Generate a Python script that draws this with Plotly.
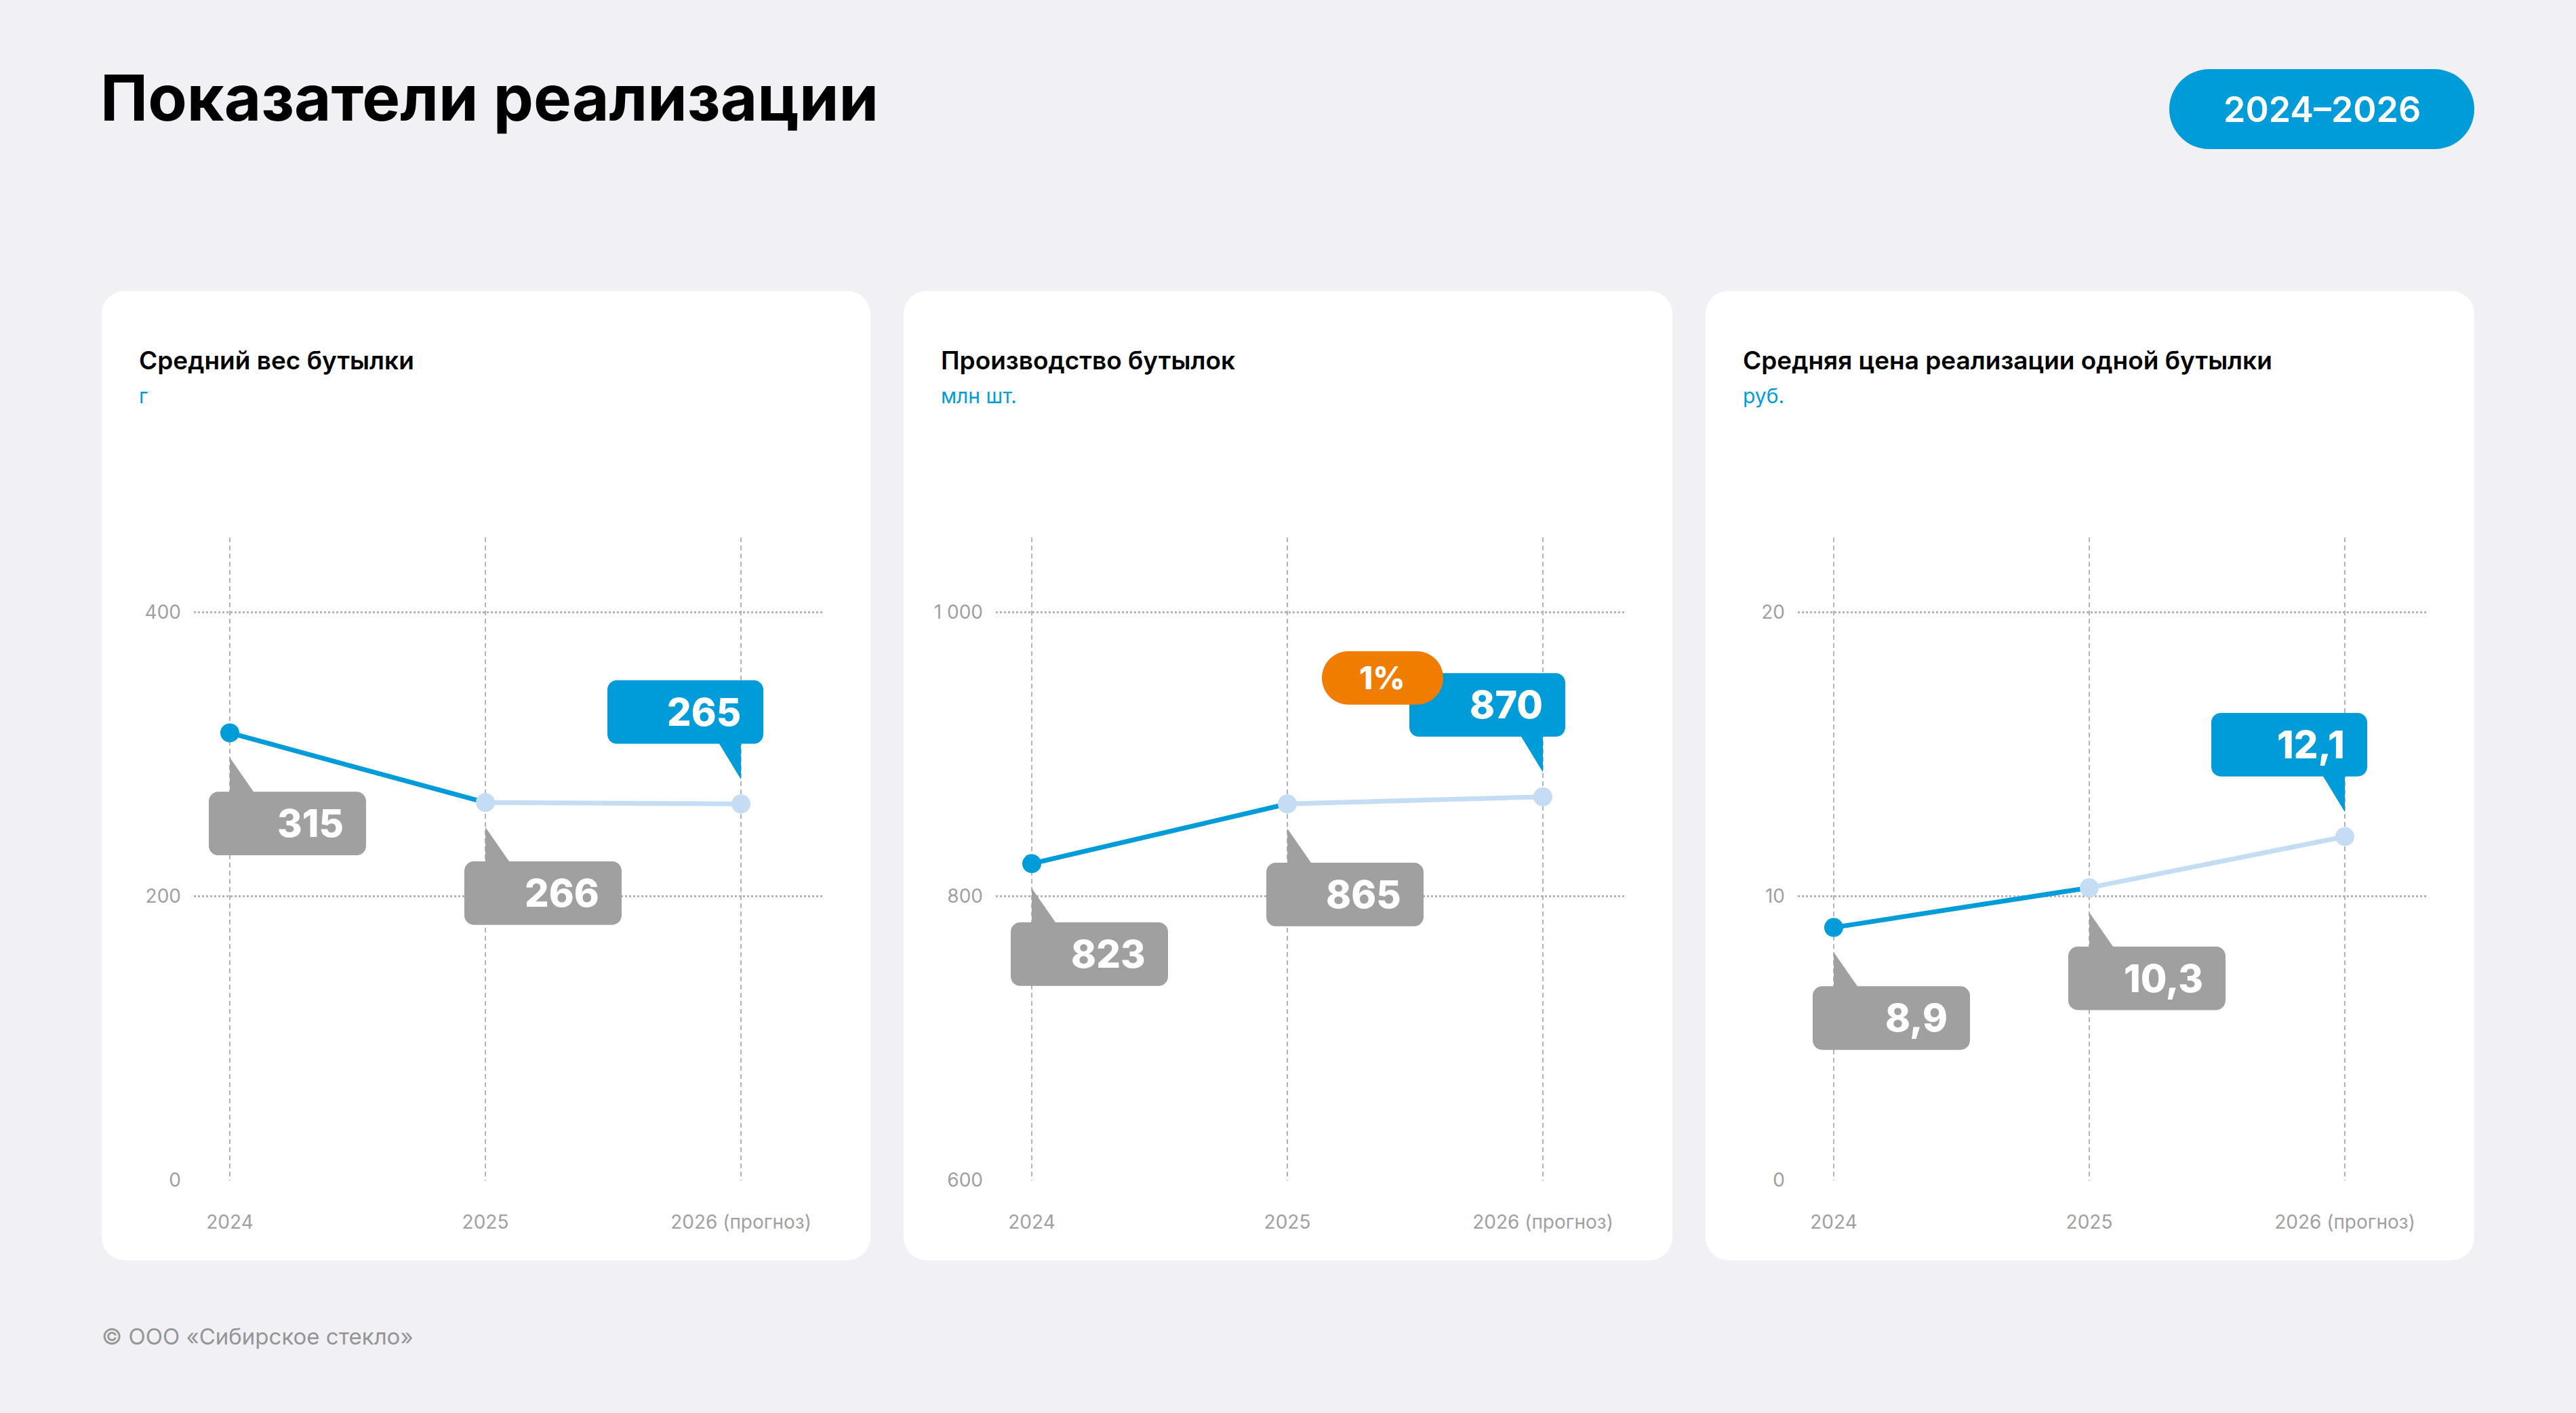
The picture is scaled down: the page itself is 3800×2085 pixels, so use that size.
import plotly.graph_objects as go

W, H = 3800, 2085
SY = 1.0086   # vertical correction measured for the capture

# ---------------- data ----------------
years = ["2024", "2025", "2026 (прогноз)"]
titles = ["Средний вес бутылки", "Производство бутылок", "Средняя цена реализации одной бутылки"]
units = ["г", "млн шт.", "руб."]

weight = [315, 266, 265]
production = [823, 865, 870]
price = [8.9, 10.3, 12.1]

weight_labels = ["315", "266", "265"]
production_labels = ["823", "865", "870"]
price_labels = ["8,9", "10,3", "12,1"]

production_change = "1%"          # badge on 2026 production value

weight_ticks = [0, 200, 400]
weight_ticktext = ["0", "200", "400"]
production_ticks = [600, 800, 1000]
production_ticktext = ["600", "800", "1 000"]
price_ticks = [0, 10, 20]
price_ticktext = ["0", "10", "20"]

page_title = "Показатели реализации"
period = "2024–2026"
footer = "© ООО «Сибирское стекло»"

# ---------------- style ----------------
BG = "#F0F0F5"
CARD = "#FFFFFF"
BLUE = "#009CDA"
LIGHT = "#C4DDF4"
GRAY = "#A0A0A0"
ORANGE = "#F07C00"
GRID = "#B4B4B4"
TICK = "#A0A0A0"
FONT = "Inter"

K = 0.5523


def fmt(v):
    return f"{v:.6f}".rstrip("0").rstrip(".")


def rrect(l, t, r, b, rad, tf):
    c = rad * (1 - K)
    pts = [
        ("M", [(l + rad, t)]),
        ("L", [(r - rad, t)]),
        ("C", [(r - c, t), (r, t + c), (r, t + rad)]),
        ("L", [(r, b - rad)]),
        ("C", [(r, b - c), (r - c, b), (r - rad, b)]),
        ("L", [(l + rad, b)]),
        ("C", [(l + c, b), (l, b - c), (l, b - rad)]),
        ("L", [(l, t + rad)]),
        ("C", [(l, t + c), (l + c, t), (l + rad, t)]),
    ]
    s = ""
    for cmd, ps in pts:
        s += cmd + " ".join(f"{fmt(tf(x, y)[0])},{fmt(tf(x, y)[1])}" for x, y in ps) + " "
    return s + "Z"


def poly(points, tf):
    s = "M" + " L".join(f"{fmt(tf(x, y)[0])},{fmt(tf(x, y)[1])}" for x, y in points)
    return s + " Z"


def PY(p):
    return 1 - p * SY / H


paper_tf = lambda x, y: (x / W, PY(y))
pix_tf = lambda x, y: (x, -y * SY)

fig = go.Figure()
shapes = []
annotations = []

# header
annotations.append(dict(xref="paper", yref="paper", x=146 / W, y=PY(144), xanchor="left", yanchor="middle",
                        text=page_title, showarrow=False,
                        font=dict(family=FONT, size=94, color="#000000", weight=700)))
shapes.append(dict(type="path", xref="paper", yref="paper", layer="below",
                   path=rrect(3200, 102, 3650, 220, 59, paper_tf), fillcolor=BLUE, line=dict(width=0)))
annotations.append(dict(xref="paper", yref="paper", x=3425 / W, y=PY(161), xanchor="center", yanchor="middle",
                        text=period, showarrow=False,
                        font=dict(family=FONT, size=52, color="#FFFFFF", weight=600)))
annotations.append(dict(xref="paper", yref="paper", x=148 / W, y=PY(1971), xanchor="left", yanchor="middle",
                        text=footer, showarrow=False,
                        font=dict(family=FONT, size=33, color="#959595")))

charts = [
    (weight, weight_labels, weight_ticks, weight_ticktext, [0, 452.5]),
    (production, production_labels, production_ticks, production_ticktext, [600, 1052.5]),
    (price, price_labels, price_ticks, price_ticktext, [0, 22.625]),
]

card_lefts = [150, 1333, 2516]
CARD_W = 1134
CARD_T, CARD_B = 429, 1859
PLOT_T, PLOT_B = 793, 1741

layout_axes = {}
for i, (vals, labels, ticks, ticktext, yr) in enumerate(charts):
    L = card_lefts[i]
    sfx = "" if i == 0 else str(i + 1)
    xa, ya = "x" + sfx, "y" + sfx

    shapes.append(dict(type="path", xref="paper", yref="paper", layer="below",
                       path=rrect(L, CARD_T, L + CARD_W, CARD_B, 34, paper_tf),
                       fillcolor=CARD, line=dict(width=0)))
    annotations.append(dict(xref="paper", yref="paper", x=(L + 53) / W, y=PY(531.5),
                            xanchor="left", yanchor="middle", text=titles[i], showarrow=False,
                            font=dict(family=FONT, size=37, color="#000000", weight=600)))
    annotations.append(dict(xref="paper", yref="paper", x=(L + 53) / W, y=PY(584),
                            xanchor="left", yanchor="middle", text=units[i], showarrow=False,
                            font=dict(family=FONT, size=30, color=BLUE)))

    layout_axes["xaxis" + sfx] = dict(
        domain=[(L + 136) / W, (L + 1064) / W], anchor=ya, range=[-0.1406, 2.321],
        tickvals=[0, 1, 2], ticktext=years, showgrid=True, gridcolor=GRID, gridwidth=2,
        griddash="7px,5px", zeroline=False, showline=False, ticks="",
        ticklabelstandoff=42, tickfont=dict(family=FONT, size=28, color=TICK), fixedrange=True)
    layout_axes["yaxis" + sfx] = dict(
        domain=[PY(PLOT_B), PY(PLOT_T)], anchor=xa, range=yr,
        tickvals=ticks, ticktext=ticktext, showgrid=True, gridcolor=GRID, gridwidth=2.5,
        griddash="3px,3px", zeroline=False, showline=False, ticks="",
        ticklabelstandoff=18, tickfont=dict(family=FONT, size=28, color=TICK), fixedrange=True)

    fig.add_trace(go.Scatter(x=[1, 2], y=vals[1:3], mode="lines", xaxis=xa, yaxis=ya,
                             line=dict(color=LIGHT, width=7), hoverinfo="skip"))
    fig.add_trace(go.Scatter(x=[0, 1], y=vals[0:2], mode="lines", xaxis=xa, yaxis=ya,
                             line=dict(color=BLUE, width=7), hoverinfo="skip"))
    fig.add_trace(go.Scatter(x=[0, 1, 2], y=vals, mode="markers", xaxis=xa, yaxis=ya,
                             marker=dict(color=[BLUE, LIGHT, LIGHT], size=28, line=dict(width=0)),
                             hoverinfo="skip"))

    for j, (v, lab) in enumerate(zip(vals, labels)):
        base = dict(type="path", xref=xa, yref=ya, xsizemode="pixel", ysizemode="pixel",
                    xanchor=j, yanchor=v, layer="above", line=dict(width=0))
        if j < 2:
            col = GRAY
            box = (-31, 86, 201, 179)
            tail = [(0, 36), (35, 86), (35, 92), (0, 92)]
        else:
            col = BLUE
            box = (-197, -181, 33, -88)
            tail = [(0, -36), (-32, -88), (-32, -94), (0, -94)]
        shapes.append(dict(base, path=rrect(*box, 14, pix_tf), fillcolor=col))
        shapes.append(dict(base, path=poly(tail, pix_tf), fillcolor=col))
        annotations.append(dict(xref=xa, yref=ya, x=j, y=v, xshift=box[2] - 31,
                                yshift=-(box[1] + box[3]) / 2 * SY, xanchor="right", yanchor="middle",
                                text=lab, showarrow=False,
                                font=dict(family=FONT, size=56, color="#FFFFFF", weight=800)))

    if i == 1:
        j = 2
        v = vals[2]
        shapes.append(dict(type="path", xref=xa, yref=ya, xsizemode="pixel", ysizemode="pixel",
                           xanchor=j, yanchor=v, layer="above", line=dict(width=0),
                           path=rrect(-326, -213, -147, -135, 39, pix_tf), fillcolor=ORANGE))
        annotations.append(dict(xref=xa, yref=ya, x=j, y=v, xshift=-236.5, yshift=174 * SY,
                                xanchor="center", yanchor="middle", text=production_change,
                                showarrow=False,
                                font=dict(family=FONT, size=46, color="#FFFFFF", weight=800)))

fig.update_layout(
    width=W, height=H, margin=dict(l=0, r=0, t=0, b=0),
    paper_bgcolor=BG, plot_bgcolor="rgba(0,0,0,0)",
    showlegend=False, shapes=shapes, annotations=annotations,
    font=dict(family=FONT), hovermode=False,
    **layout_axes,
)

fig.write_html("out.html", config={"displayModeBar": False})
